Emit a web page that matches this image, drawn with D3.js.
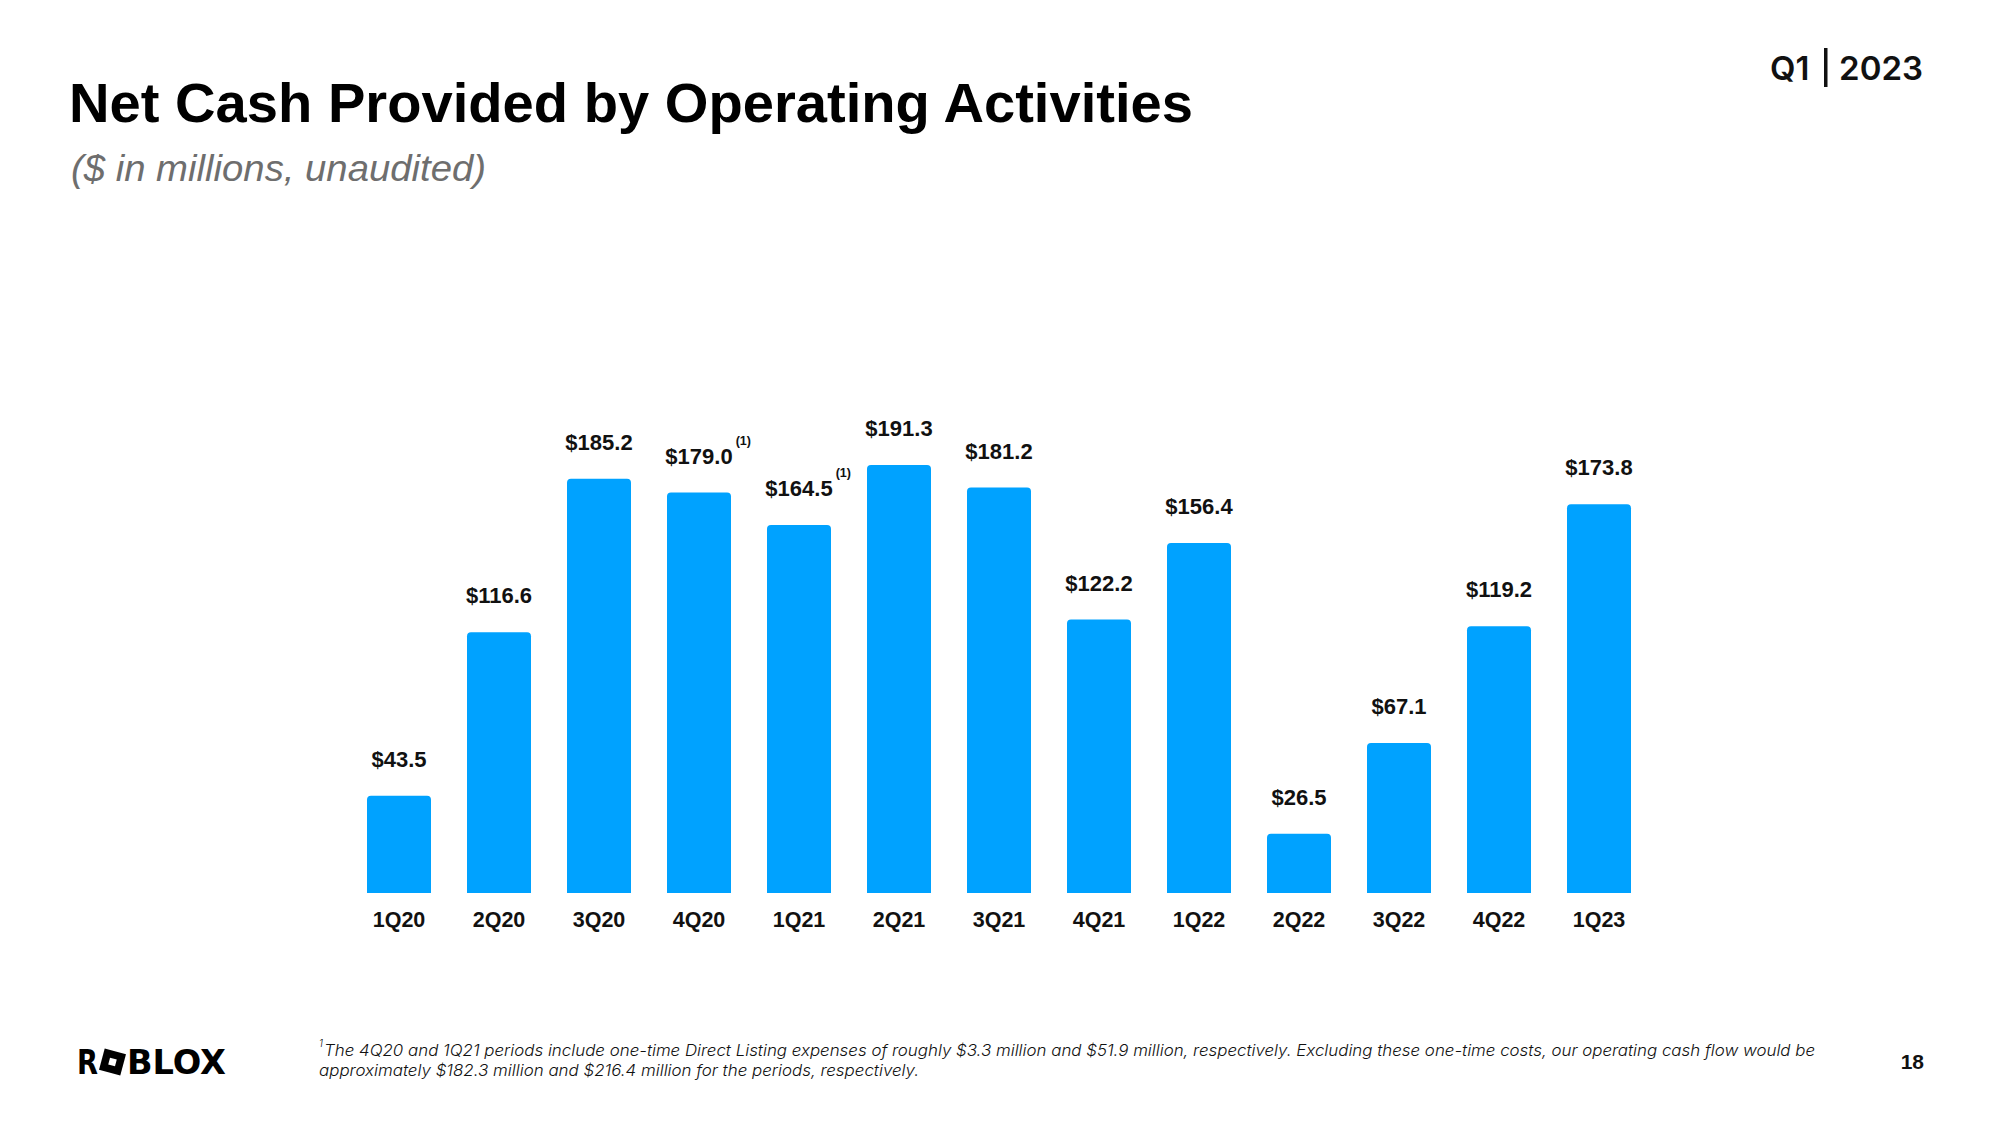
<!DOCTYPE html>
<html>
<head>
<meta charset="utf-8">
<script src="https://cdn.jsdelivr.net/npm/d3@7/dist/d3.min.js"></script>
<style>
  html, body { margin: 0; padding: 0; background: #fff; }
  svg { display: block; }
</style>
</head>
<body>
<svg id="chart" width="2000" height="1125"></svg>
<script>
// ---- Data ----
const categories = ["1Q20","2Q20","3Q20","4Q20","1Q21","2Q21","3Q21","4Q21","1Q22","2Q22","3Q22","4Q22","1Q23"];
const values = [43.5, 116.6, 185.2, 179.0, 164.5, 191.3, 181.2, 122.2, 156.4, 26.5, 67.1, 119.2, 173.8];
const valueLabels = ["$43.5","$116.6","$185.2","$179.0","$164.5","$191.3","$181.2","$122.2","$156.4","$26.5","$67.1","$119.2","$173.8"];
const footnoteMarks = ["4Q20","1Q21"];
const titleText = "Net Cash Provided by Operating Activities";
const subtitleText = "($ in millions, unaudited)";
const footnoteLines = [
  "The 4Q20 and 1Q21 periods include one-time Direct Listing expenses of roughly $3.3 million and $51.9 million, respectively. Excluding these one-time costs, our operating cash flow would be",
  "approximately $182.3 million and $216.4 million for the periods, respectively."
];

const svg = d3.select("#chart");
const BLUE = "#00A2FF";

// ---- Title ----
svg.append("text")
  .attr("x", 69).attr("y", 122)
  .attr("font-family", "'Liberation Sans', Arial, sans-serif")
  .attr("font-weight", 700).attr("font-size", 56)
  .attr("textLength", 1124).attr("lengthAdjust", "spacingAndGlyphs")
  .attr("fill", "#000").text(titleText);

svg.append("text")
  .attr("x", 71).attr("y", 181)
  .attr("font-family", "'Liberation Sans', Arial, sans-serif")
  .attr("font-style", "italic").attr("font-weight", 400).attr("font-size", 36)
  .attr("textLength", 415).attr("lengthAdjust", "spacingAndGlyphs")
  .attr("fill", "#6e6e6e").text(subtitleText);

// ---- Q1 | 2023 ----
svg.append("text").attr("x", 1770).attr("y", 80)
  .attr("font-family", "Inter, sans-serif").attr("font-weight", 600).attr("font-size", 33)
  .attr("fill", "#111").text("Q1");
svg.append("rect").attr("x", 1824).attr("y", 48).attr("width", 3.5).attr("height", 39).attr("fill", "#111");
svg.append("text").attr("x", 1923).attr("y", 80).attr("text-anchor", "end")
  .attr("font-family", "Inter, sans-serif").attr("font-weight", 600).attr("font-size", 33)
  .attr("fill", "#111").text("2023");

// ---- Chart ----
const x = d3.scaleBand().domain(categories).range([349, 1649]).paddingInner(0.36).paddingOuter(0.18);
const y = d3.scaleLinear().domain([0, 191.3]).range([893, 465]);

const r = 4;
function barPath(d, i) {
  const x0 = x(categories[i]), w = x.bandwidth(), y0 = y(d), yb = y(0);
  return `M${x0},${yb} L${x0},${y0 + r} Q${x0},${y0} ${x0 + r},${y0} L${x0 + w - r},${y0} Q${x0 + w},${y0} ${x0 + w},${y0 + r} L${x0 + w},${yb} Z`;
}

svg.append("g").selectAll("path").data(values).join("path")
  .attr("d", barPath).attr("fill", BLUE);

// value labels
const lbl = svg.append("g")
  .attr("font-family", "'Liberation Sans', Arial, sans-serif")
  .attr("font-weight", 700).attr("font-size", 22).attr("fill", "#111");
lbl.selectAll("text").data(values).join("text")
  .attr("x", (d, i) => x(categories[i]) + x.bandwidth() / 2)
  .attr("y", d => y(d) - 29)
  .attr("text-anchor", "middle")
  .text((d, i) => valueLabels[i])
  .each(function(d, i) {
    if (footnoteMarks.includes(categories[i])) {
      const w = this.getComputedTextLength();
      const cx = x(categories[i]) + x.bandwidth() / 2;
      lbl.append("text")
        .attr("x", cx + w / 2 + 3)
        .attr("y", y(d) - 29 - 19)
        .attr("font-size", 12.5)
        .text("(1)");
    }
  });

// axis labels
const xAxis = d3.axisBottom(x).tickSize(0).tickPadding(0);
const gx = svg.append("g").attr("transform", "translate(0,893)").call(xAxis);
gx.select(".domain").remove();
gx.selectAll("text")
  .attr("font-family", "'Liberation Sans', Arial, sans-serif")
  .attr("font-weight", 700).attr("font-size", 21.5).attr("fill", "#111")
  .attr("dy", null).attr("y", 34);

// ---- Logo ----
const logo = svg.append("g").attr("fill", "#000")
  .attr("font-family", "'DejaVu Sans', Inter, sans-serif").attr("font-weight", 700).attr("font-size", 33);
logo.append("text").attr("x", 77).attr("y", 1074)
  .attr("textLength", 21).attr("lengthAdjust", "spacingAndGlyphs").text("R");
logo.append("g").attr("transform", "translate(112.5,1062) rotate(15)")
  .call(g => {
    g.append("rect").attr("x", -11).attr("y", -11).attr("width", 22).attr("height", 22).attr("fill", "#000");
    g.append("rect").attr("x", -3.5).attr("y", -3.5).attr("width", 7).attr("height", 7).attr("fill", "#fff");
  });
logo.append("text").attr("x", 127).attr("y", 1074)
  .attr("textLength", 99).attr("lengthAdjust", "spacingAndGlyphs").text("BLOX");

// ---- Footnote ----
const fn = svg.append("g")
  .attr("font-family", "Inter, 'Noto Sans', sans-serif")
  .attr("font-style", "italic").attr("font-weight", 300).attr("fill", "#111");
fn.append("text").attr("x", 319).attr("y", 1047).attr("font-size", 10).text("1");
fn.append("text").attr("x", 324).attr("y", 1056).attr("font-size", 16)
  .attr("textLength", 1491).attr("lengthAdjust", "spacingAndGlyphs").text(footnoteLines[0]);
fn.append("text").attr("x", 319).attr("y", 1076).attr("font-size", 16)
  .attr("textLength", 600).attr("lengthAdjust", "spacingAndGlyphs").text(footnoteLines[1]);

// ---- Page number ----
svg.append("text").attr("x", 1924).attr("y", 1069).attr("text-anchor", "end")
  .attr("font-family", "'Liberation Sans', Arial, sans-serif").attr("font-weight", 700).attr("font-size", 21)
  .attr("fill", "#111").text("18");
</script>
</body>
</html>
